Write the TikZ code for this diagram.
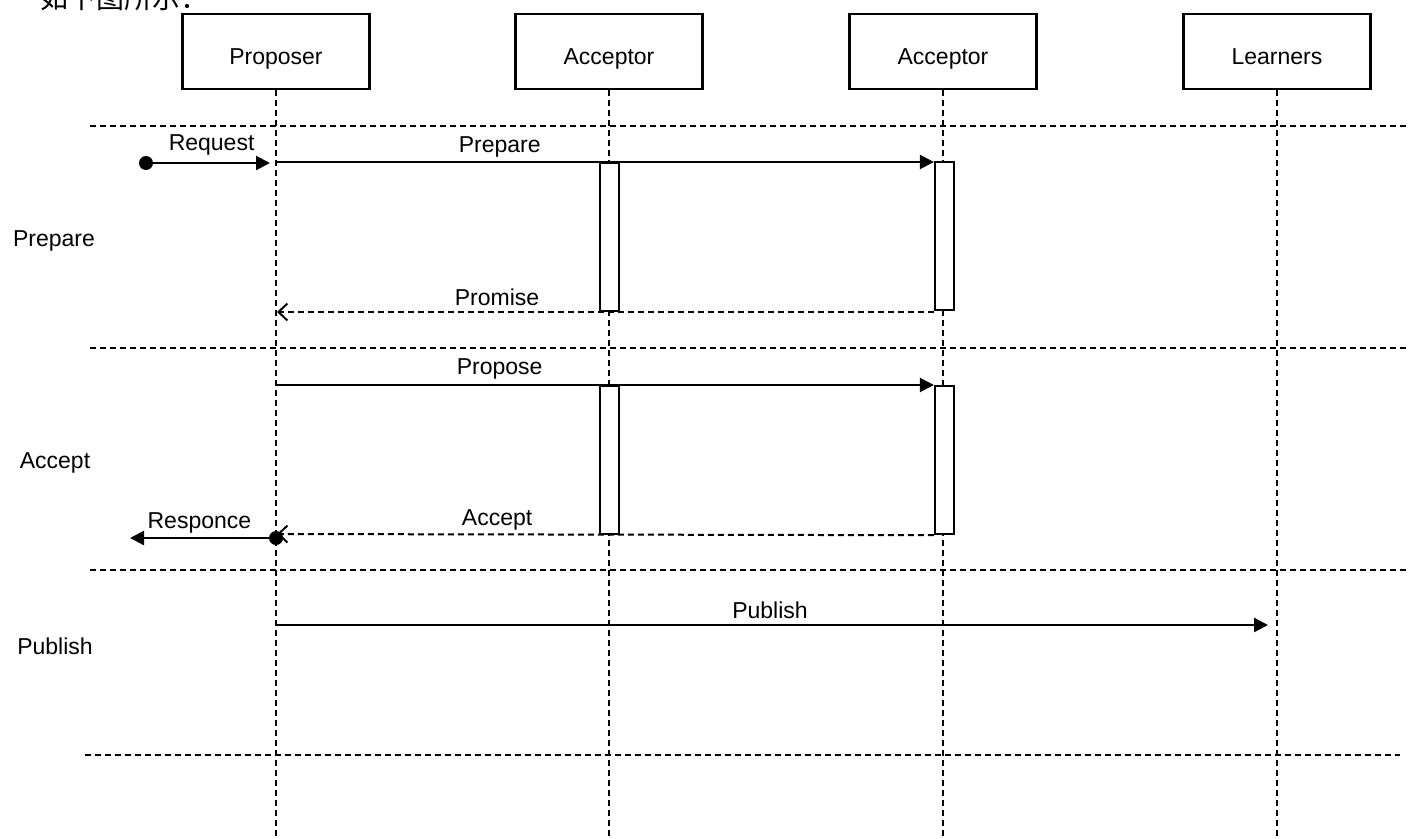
\documentclass[tikz,border=0pt]{standalone}
\usepackage{fontspec}
\setmainfont{Liberation Sans}
\newfontfamily\cjk{Noto Sans CJK SC}
\usetikzlibrary{arrows.meta,positioning}

\begin{document}
\begin{tikzpicture}[x=1pt,y=-1pt,
  font=\fontsize{23}{27}\selectfont,
  actor/.style={draw,line width=2.2pt,minimum width=187pt,minimum height=75pt,text height=25pt,text depth=0pt},
  life/.style={line width=2pt,dash pattern=on 6pt off 4pt},
  sep/.style={line width=2pt,dash pattern=on 6pt off 4pt},
  bar/.style={draw,fill=white,line width=2.2pt,minimum width=19pt,minimum height=148pt,inner sep=0pt,anchor=north},
  msg/.style={line width=2.2pt,-{Triangle[length=14pt,width=14pt]}},
  reply/.style={line width=2pt,dash pattern=on 6pt off 4pt,-{Straight Barb[length=9pt,width=17pt]}},
  dot/.style={circle,fill,inner sep=0pt,minimum size=14pt}]
  \useasboundingbox (0,0) rectangle (1412,838);
  \begin{scope}
    \clip (0,0) rectangle (1412,838);
    \node[anchor=base west,inner sep=0pt,font=\cjk\fontsize{28}{30}\selectfont] (note) at (40,8) {如下图所示：};
  \end{scope}
  \foreach \n/\x/\t in {prop/276/Proposer,acc1/609/Acceptor,acc2/943/Acceptor,learn/1277/Learners}
  {
    \node[actor] (\n) at (\x,51.5) {\t};
    \draw[life] (\n.south) -- ++(0,749);
  }
  \draw[sep] (90,126) -- (1408,126);
  \draw[sep] (90,348) -- (1408,348);
  \draw[sep] (90,570) -- (1408,570);
  \draw[sep] (85,755) -- (1400,755);
  \node (phase1) at (54,241) {Prepare};
  \node (phase2) at (55,463) {Accept};
  \node (phase3) at (55,646) {Publish};
  \node[bar] (b1) at (609.5,162) {};
  \node[bar] (b2) at (944.5,161) {};
  \node[bar] (b3) at (609.5,385) {};
  \node[bar] (b4) at (944.5,385) {};
  \coordinate (p1) at (276,162);
  \coordinate (p2) at (277,312);
  \coordinate (p3) at (276,385);
  \coordinate (p4) at (277,534);
  \coordinate (p5) at (276,625);
  \coordinate (l5) at (1268,625);
  \coordinate (r1) at (270,163);
  \coordinate (r2) at (130,538);
  \node[dot] (start) at (146,163) {};
  \node[dot] (stop) at (276,538) {};
  \draw[msg] (start) -- (r1) node[midway,above=3pt] {Request};
  \draw[msg] (p1) -- (b2.north west |- p1) node[pos=.34,above=0pt] {Prepare};
  \draw[reply] (b2.south west |- p2) -- (p2) node[pos=.665,above=2pt] {Promise};
  \draw[msg] (p3) -- (b4.north west) node[pos=.34,above=1pt] {Propose};
  \draw[reply] (b4.south west) -- (p4) node[pos=.665,above=0pt] {Accept};
  \draw[msg] (stop) -- (r2) node[pos=.5,above=0pt] {Responce};
  \draw[msg] (p5) -- (l5) node[pos=.498,above=2pt] {Publish};
\end{tikzpicture}
\end{document}
